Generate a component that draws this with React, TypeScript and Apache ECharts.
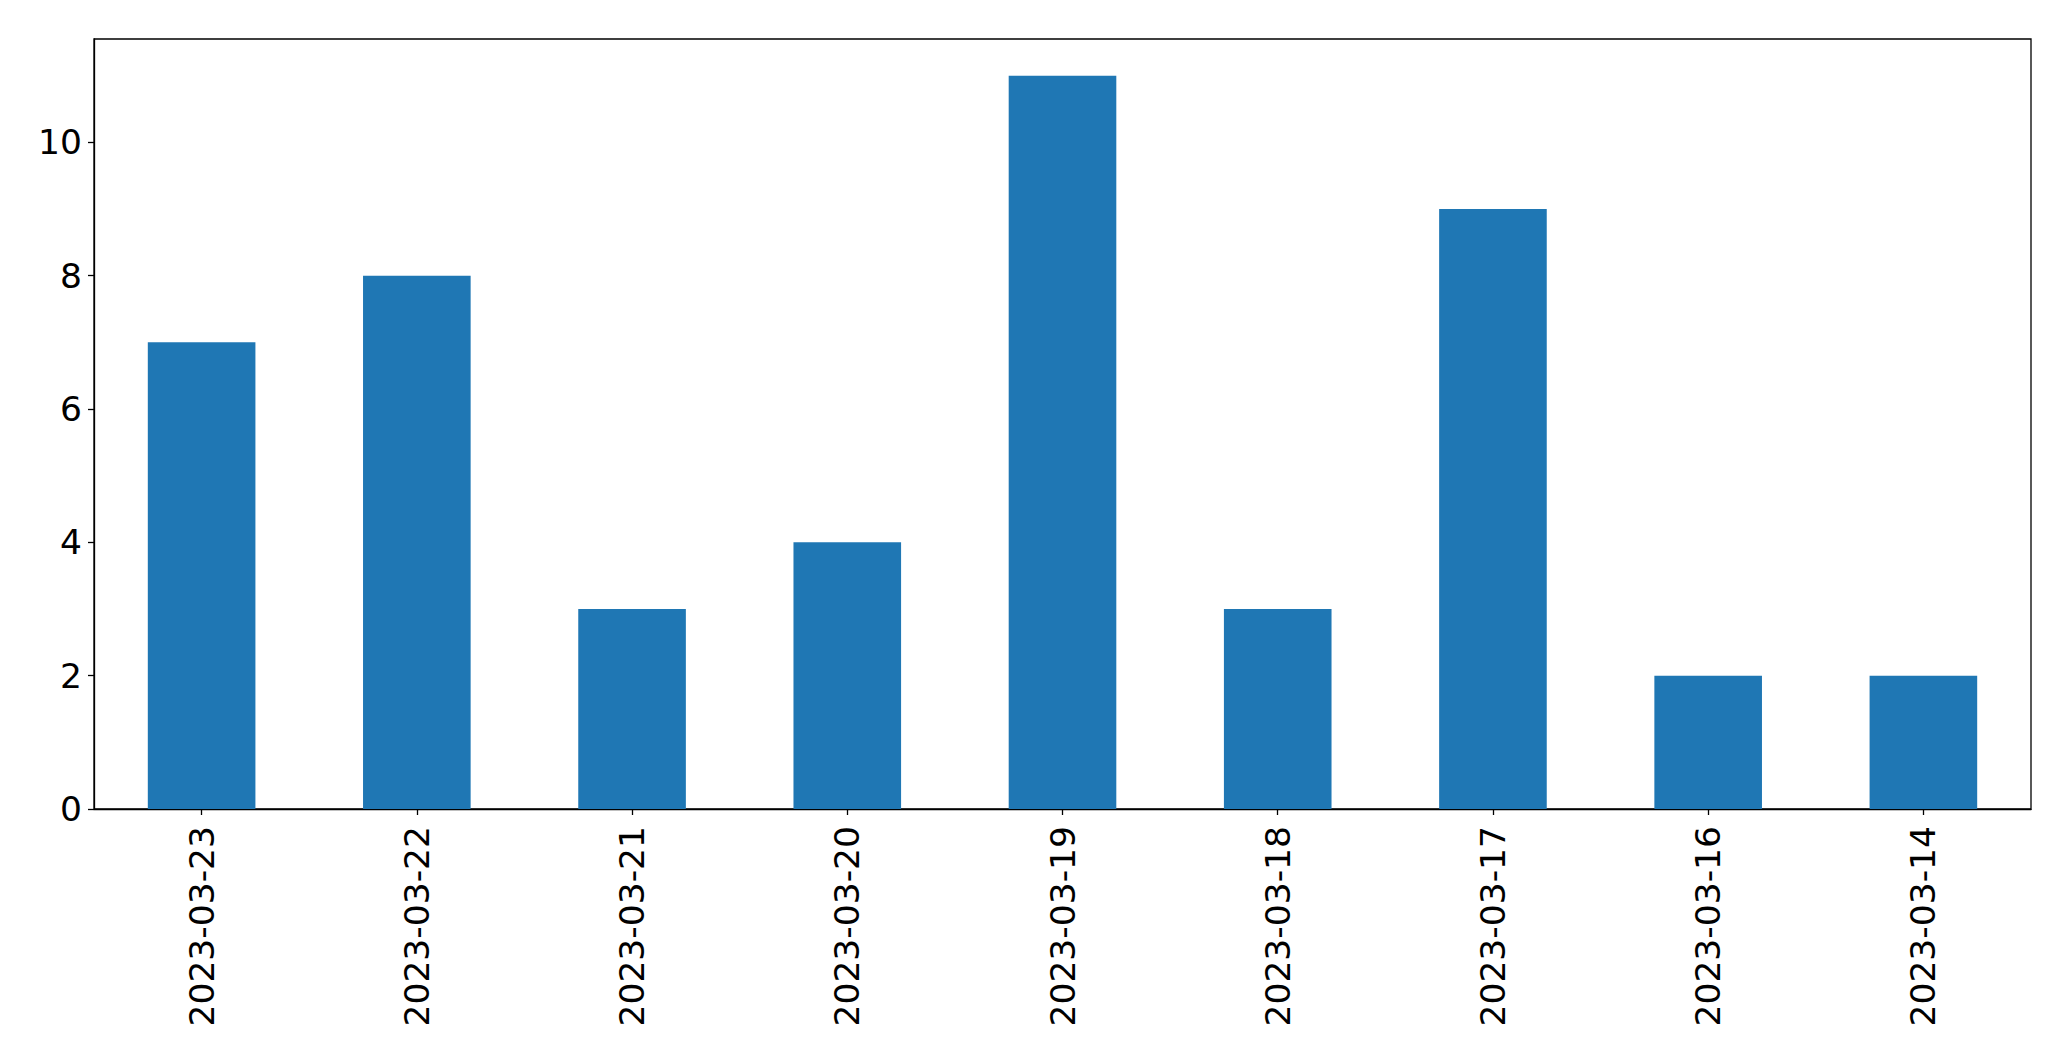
import React, { useEffect, useRef } from "react";
import * as echarts from "echarts";

const categories = ["2023-03-23", "2023-03-22", "2023-03-21", "2023-03-20", "2023-03-19", "2023-03-18", "2023-03-17", "2023-03-16", "2023-03-14"];
const values = [7, 8, 3, 4, 11, 3, 9, 2, 2];
const yMax = 11.55;
const yInterval = 2;

export default function App() {
  const ref = useRef<HTMLDivElement>(null);
  useEffect(() => {
    document.body.style.margin = "0";
    const chart = echarts.init(ref.current!, null, { renderer: "svg" });
    const font = "DejaVu Sans";
    chart.setOption({
      animation: false,
      backgroundColor: "#ffffff",
      grid: {
        left: 94,
        top: 39,
        right: 40,
        bottom: 252,
        show: true,
        borderColor: "#000",
        borderWidth: 1.3,
        containLabel: false,
      },
      xAxis: {
        type: "category",
        data: categories,
        boundaryGap: true,
        axisLine: { show: true, lineStyle: { color: "#000", width: 1.3 } },
        axisTick: { show: true, alignWithLabel: true, length: 6, lineStyle: { color: "#000", width: 1.3 } },
        axisLabel: {
          rotate: 90,
          margin: 17,
          color: "#000",
          fontFamily: font,
          fontSize: 34.5,
          interval: 0,
        },
        splitLine: { show: false },
      },
      yAxis: {
        type: "value",
        min: 0,
        max: yMax,
        interval: yInterval,
        axisLine: { show: true, lineStyle: { color: "#000", width: 1.3 } },
        axisTick: { show: true, length: 6, lineStyle: { color: "#000", width: 1.3 } },
        axisLabel: {
          margin: 12,
          color: "#000",
          fontFamily: font,
          fontSize: 34.5,
          showMaxLabel: false,
        },
        splitLine: { show: false },
      },
      series: [
        {
          type: "bar",
          data: values,
          barWidth: "50%",
          itemStyle: { color: "#1f77b4" },
        },
      ],
    });
    return () => chart.dispose();
  }, []);
  return <div ref={ref} style={{ width: 2071, height: 1061, position: "absolute", left: 0, top: 0 }} />;
}
